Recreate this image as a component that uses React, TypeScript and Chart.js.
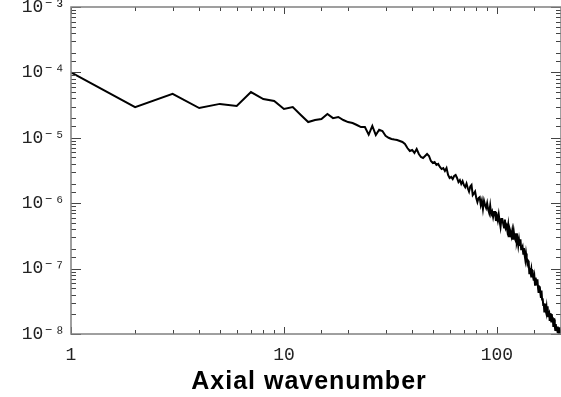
import { useEffect, useRef } from 'react';
import { Chart, registerables } from 'chart.js';

Chart.register(...registerables);

// Power spectrum, one value per integer axial wavenumber (1 … 200)
const spectrum = [
  1.0e-4, 2.95e-5, 4.7e-5, 2.85e-5, 3.3e-5, 3.07e-5, 5.0e-5, 3.92e-5, 3.65e-5, 2.76e-5,
  2.95e-5, 2.23e-5, 1.74e-5, 1.87e-5, 1.94e-5, 2.31e-5, 2.0e-5, 2.08e-5, 1.87e-5, 1.74e-5,
  1.68e-5, 1.57e-5, 1.46e-5, 1.46e-5, 1.12e-5, 1.52e-5, 1.1e-5, 1.33e-5, 1.27e-5, 1.07e-5,
  1.0e-5, 9.6e-6, 9.4e-6, 9.25e-6, 8.93e-6, 8.63e-6, 8.04e-6, 6.98e-6, 6.29e-6, 6.51e-6,
  5.86e-6, 6.74e-6, 5.65e-6, 5.09e-6, 4.91e-6, 5.27e-6, 5.65e-6, 5.27e-6, 4.42e-6, 4.12e-6,
  4.27e-6, 3.84e-6, 3.98e-6, 3.58e-6, 3.33e-6, 3.45e-6, 3.11e-6, 3.45e-6, 2.7e-6, 2.43e-6,
  2.52e-6, 2.34e-6, 2.61e-6, 2.7e-6, 2.43e-6, 2.11e-6, 2.26e-6, 1.97e-6, 2.18e-6, 1.9e-6,
  1.76e-6, 2.0e-6, 1.69e-6, 1.5e-6, 1.8e-6, 1.9e-6, 1.33e-6, 1.41e-6, 1.51e-6, 1.2e-6,
  1.04e-6, 1.2e-6, 1.24e-6, 9.4e-7, 1.1e-6, 8.18e-7, 1.09e-6, 9.4e-7, 8.47e-7, 1.0e-6,
  8.0e-7, 7.1e-7, 9.2e-7, 6.77e-7, 7.43e-7, 6.16e-7, 7.34e-7, 7.34e-7, 5.35e-7, 6.38e-7,
  5.44e-7, 6.73e-7, 5.31e-7, 4.33e-7, 5.74e-7, 5.74e-7, 4.87e-7, 4.25e-7, 5.63e-7, 4.2e-7,
  4.52e-7, 3.76e-7, 4.61e-7, 3.12e-7, 3.98e-7, 3.59e-7, 3.14e-7, 3.77e-7, 2.77e-7, 3.68e-7,
  2.97e-7, 2.77e-7, 3.47e-7, 2.52e-7, 2.81e-7, 2.25e-7, 2.76e-7, 2.22e-7, 2.81e-7, 1.97e-7,
  2.03e-7, 2.16e-7, 1.68e-7, 2.05e-7, 1.61e-7, 1.36e-7, 1.7e-7, 1.4e-7, 1.2e-7, 1.32e-7,
  1.27e-7, 8.5e-8, 1.02e-7, 8.76e-8, 9.89e-8, 7.33e-8, 9.5e-8, 7.4e-8, 6.56e-8, 7.52e-8,
  5.67e-8, 7.27e-8, 6.3e-8, 5.67e-8, 6.87e-8, 5.06e-8, 4.27e-8, 5.33e-8, 5.24e-8, 4.24e-8,
  3.56e-8, 4.61e-8, 3.36e-8, 3.5e-8, 2.78e-8, 2.95e-8, 2.2e-8, 2.92e-8, 2.34e-8, 2.17e-8,
  2.5e-8, 1.9e-8, 2.65e-8, 1.87e-8, 2.02e-8, 2.1e-8, 1.59e-8, 2.07e-8, 1.71e-8, 1.55e-8,
  2.01e-8, 1.65e-8, 1.8e-8, 1.33e-8, 1.65e-8, 1.67e-8, 1.32e-8, 1.15e-8, 1.42e-8, 1.21e-8,
  1.11e-8, 1.3e-8, 1.04e-8, 1.21e-8, 9.7e-9, 1.26e-8, 1.04e-8, 1.1e-8, 9.8e-9, 1.15e-8,
];
const wavenumbers = spectrum.map((_, i) => i + 1);

const xTickValues = [1, 10, 100];
const xTickLabels = ['1', '10', '100'];
const yTickValues = [1e-3, 1e-4, 1e-5, 1e-6, 1e-7, 1e-8];
const yTickLabels = ['10⁻³', '10⁻⁴', '10⁻⁵', '10⁻⁶', '10⁻⁷', '10⁻⁸'];
const xTitle = 'Axial wavenumber';

const sameLog = (a: number, b: number) => Math.abs(Math.log10(a) - Math.log10(b)) < 1e-6;
const isDecade = (v: number) => {
  const l = Math.log10(v);
  return Math.abs(l - Math.round(l)) < 1e-6;
};

const tickFont = { family: '"Liberation Mono", "DejaVu Sans Mono", monospace', size: 18 };

// Fixed scale footprint so the plot box spans the full canvas width
const fixScale = (size: { width?: number; height?: number }) => (s: any) => {
  if (size.width !== undefined) s.width = size.width;
  if (size.height !== undefined) s.height = size.height;
  s.paddingLeft = 0;
  s.paddingRight = 0;
  s.paddingTop = 0;
  s.paddingBottom = 0;
};

// Boxed frame with inward log ticks on all four sides, plus the axis title
const framePlugin = {
  id: 'frameTicks',
  afterDatasetsDraw(chart: any) {
    const { ctx, chartArea: a, scales } = chart;
    ctx.save();
    const seg = (x1: number, y1: number, x2: number, y2: number) => {
      ctx.beginPath();
      ctx.moveTo(x1, y1);
      ctx.lineTo(x2, y2);
      ctx.stroke();
    };
    ctx.strokeStyle = '#444';
    ctx.lineWidth = 1;
    const xs = scales.x;
    xs.ticks.forEach((t: any) => {
      if (t.value < xs.min || t.value > xs.max) return;
      const p = Math.round(xs.getPixelForValue(t.value)) + 0.5;
      const len = isDecade(t.value) ? 7 : 4;
      seg(p, a.bottom, p, a.bottom - len);
      seg(p, a.top, p, a.top + len);
    });
    const ys = scales.y;
    ys.ticks.forEach((t: any) => {
      if (t.value < ys.min || t.value > ys.max) return;
      const p = Math.round(ys.getPixelForValue(t.value)) + 0.5;
      const len = isDecade(t.value) ? 10 : 5;
      seg(a.left, p, a.left + len, p);
      seg(a.right, p, a.right - len, p);
    });
    ctx.strokeStyle = '#808080';
    ctx.lineWidth = 1.5;
    ctx.strokeRect(a.left, a.top, a.right - a.left, a.bottom - a.top);

    ctx.fillStyle = '#000';
    ctx.font = 'bold 25px "Liberation Sans", Arial, sans-serif';
    (ctx as any).letterSpacing = '1px';
    ctx.textAlign = 'center';
    ctx.textBaseline = 'alphabetic';
    ctx.fillText(xTitle, (a.left + a.right) / 2 - 7, a.bottom + 55);
    ctx.restore();
  },
};

export default function App() {
  const canvasRef = useRef<HTMLCanvasElement | null>(null);

  useEffect(() => {
    document.body.style.margin = '0';
    const canvas = canvasRef.current;
    if (!canvas) return;
    const chart = new Chart(canvas, {
      type: 'line',
      data: {
        datasets: [
          {
            data: wavenumbers.map((k, i) => ({ x: k, y: spectrum[i] })),
            borderColor: '#000',
            borderWidth: 2,
            pointRadius: 0,
            tension: 0,
            fill: false,
          },
        ],
      },
      options: {
        animation: false,
        responsive: false,
        devicePixelRatio: 1,
        layout: { padding: { top: 7, right: 0, left: 0, bottom: 0 } },
        plugins: { legend: { display: false }, tooltip: { enabled: false } },
        scales: {
          x: {
            type: 'logarithmic',
            min: 1,
            max: 200,
            grid: { display: false, drawTicks: false, tickLength: 0 },
            border: { display: false },
            afterFit: fixScale({ height: 63 }),
            ticks: {
              autoSkip: false,
              maxRotation: 0,
              padding: 10,
              color: '#222',
              font: tickFont,
              callback: (v: any) => {
                const i = xTickValues.findIndex((t) => sameLog(t, Number(v)));
                return i >= 0 ? xTickLabels[i] : '';
              },
            },
          },
          y: {
            type: 'logarithmic',
            min: 1e-8,
            max: 1e-3,
            grid: { display: false, drawTicks: false, tickLength: 0 },
            border: { display: false },
            afterFit: fixScale({ width: 71 }),
            ticks: {
              autoSkip: false,
              padding: 6,
              color: '#222',
              font: tickFont,
              callback: (v: any) => {
                const i = yTickValues.findIndex((t) => sameLog(t, Number(v)));
                return i >= 0 ? yTickLabels[i] : '';
              },
            },
          },
        },
      },
      plugins: [framePlugin],
    });
    return () => chart.destroy();
  }, []);

  return (
    <div style={{ width: 561, height: 397, background: '#fff' }}>
      <canvas ref={canvasRef} width={561} height={397} />
    </div>
  );
}
